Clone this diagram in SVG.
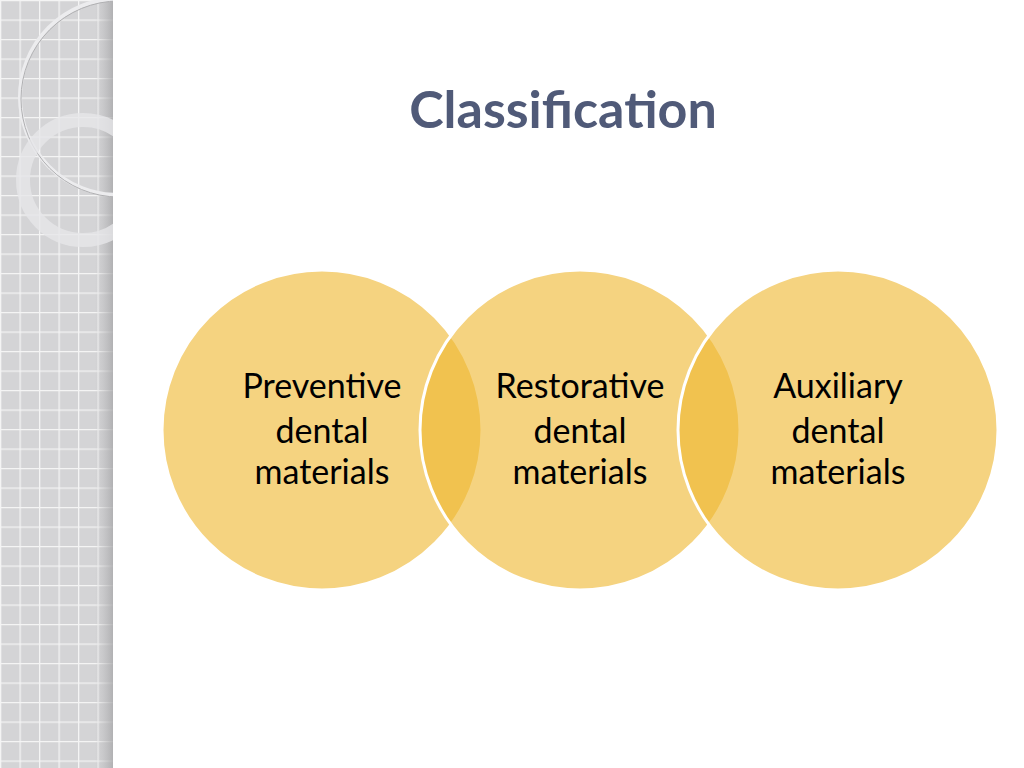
<svg xmlns="http://www.w3.org/2000/svg" width="1024" height="768" viewBox="0 0 1024 768">
<defs>
<pattern id="grid" width="19.5" height="19.5" patternUnits="userSpaceOnUse">
<rect width="19.5" height="19.5" fill="#D4D4D6"/>
<path d="M0 0.5H19.5M0.5 0V19.5" stroke="#F4F4F4" stroke-width="1.6" fill="none"/>
</pattern>
<linearGradient id="edge" x1="0" x2="1">
<stop offset="0" stop-color="#BDBDBF" stop-opacity="0"/>
<stop offset="1" stop-color="#A8A8AA" stop-opacity="0.8"/>
</linearGradient>
<clipPath id="strip"><rect width="113" height="768"/></clipPath>
</defs>
<style>
.c{fill:#EFB72F;fill-opacity:0.61;stroke:#fff;stroke-width:3}
.t{font-family:Lato,"Open Sans",sans-serif;font-size:34px;fill:#000;text-anchor:middle}
</style>
<rect width="1024" height="768" fill="#fff"/>
<g id="strip-bg" clip-path="url(#strip)">
<rect width="113" height="768" fill="url(#grid)"/>
<rect x="95" width="18" height="768" fill="url(#edge)"/>
<circle cx="118" cy="97" r="98" fill="none" stroke="#ECECEE" stroke-width="4"/>
<circle cx="118" cy="97" r="98" fill="none" stroke="#B0B0B2" stroke-width="1" transform="translate(1,2)"/>
<circle cx="83" cy="180" r="60" fill="none" stroke="#E6E6E8" stroke-width="14" opacity="0.8"/>
</g>
<text x="563" y="128" font-family="Lato,'Open Sans',sans-serif" font-weight="bold" font-size="52" fill="#505A78" text-anchor="middle">Classification</text>
<g id="node1"><circle class="c" cx="322" cy="430" r="160"/></g>
<g id="node2"><circle class="c" cx="580" cy="430" r="160"/></g>
<g id="node3"><circle class="c" cx="838" cy="430" r="160"/></g>
<g id="labels">
<text class="t" x="322" y="398">Preventive</text><text class="t" x="322" y="443">dental</text><text class="t" x="322" y="484">materials</text>
<text class="t" x="580" y="398">Restorative</text><text class="t" x="580" y="443">dental</text><text class="t" x="580" y="484">materials</text>
<text class="t" x="838" y="398">Auxiliary</text><text class="t" x="838" y="443">dental</text><text class="t" x="838" y="484">materials</text>
</g>
<g id="connectors"/>
</svg>
